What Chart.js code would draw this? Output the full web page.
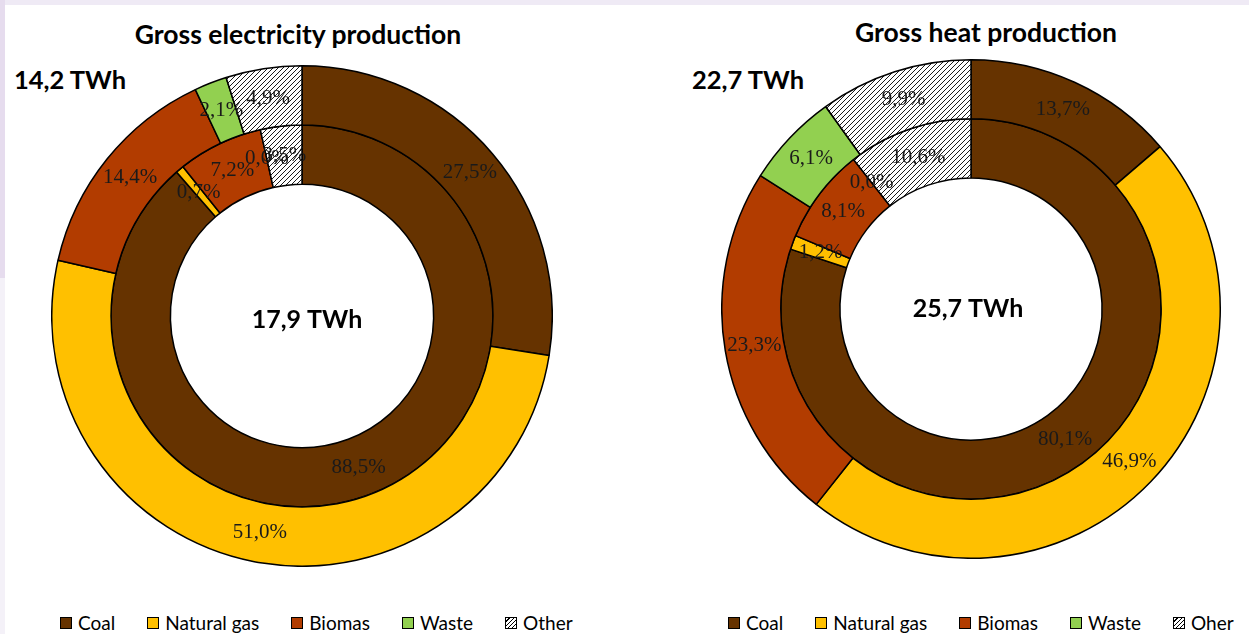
<!DOCTYPE html>
<html><head><meta charset="utf-8">
<script src="https://cdn.jsdelivr.net/npm/chart.js@4.4.1/dist/chart.umd.min.js"></script>
<style>
html,body{margin:0;padding:0;background:#fff;width:1249px;height:634px;overflow:hidden;position:relative;font-family:Lato,"Open Sans",sans-serif;}
.bar-top{position:absolute;left:0;top:0;width:1249px;height:5px;background:#efeaf5;}
.bar-left{position:absolute;left:0;top:0;width:5px;height:278px;background:#e6dcee;}
.bar-left2{position:absolute;left:0;top:278px;width:5px;height:356px;background:#f4f1f8;}
.title{position:absolute;font-weight:700;font-size:26.5px;color:#000;white-space:nowrap;transform:translate(-50%,-50%);}
.total{position:absolute;font-weight:700;font-size:25.5px;color:#000;white-space:nowrap;transform:translateY(-50%);}
.wrap{position:absolute;}
.legend{position:absolute;top:611px;display:flex;gap:32px;font-size:19px;color:#000;white-space:nowrap;}
.legend .it{display:flex;align-items:center;}
.legend .sw{width:10px;height:10px;border:1px solid #000;margin-right:6px;}
</style></head>
<body>
<div class="bar-top"></div><div class="bar-left"></div><div class="bar-left2"></div>
<div class="title" style="left:298px;top:34px">Gross electricity production</div>
<div class="title" style="left:986px;top:32px">Gross heat production</div>
<div class="total" style="left:14px;top:79px">14,2 TWh</div>
<div class="total" style="left:692px;top:79px">22,7 TWh</div>
<div class="wrap" style="left:51px;top:65px;width:502px;height:502px"><canvas id="c1"></canvas></div>
<div class="wrap" style="left:721px;top:59px;width:500px;height:500px"><canvas id="c2"></canvas></div>
<div class="legend" id="lg1" style="left:60px"></div>
<div class="legend" id="lg2" style="left:728px"></div>
<script>
// ---- data ----
const categoriesElec = ['Coal', 'Natural gas', 'Biomas', 'Waste', 'Other'];
const categoriesHeat = ['Coal', 'Natural gas', 'Biomas', 'Waste', 'Oher'];
const elecOuter = [27.5, 51.0, 14.4, 2.1, 4.9];   // 14,2 TWh
const elecInner = [88.5, 0.7, 7.2, 0.0, 3.5];     // 17,9 TWh
const heatOuter = [13.7, 46.9, 23.3, 6.1, 9.9];   // 22,7 TWh
const heatInner = [80.1, 1.2, 8.1, 0.0, 10.6];    // 25,7 TWh
const elecCenter = '17,9 TWh';
const heatCenter = '25,7 TWh';

// ---- styles ----
function hatch(){
  const s = 5, c = document.createElement('canvas');
  c.width = s; c.height = s;
  const g = c.getContext('2d');
  g.fillStyle = '#fff'; g.fillRect(0,0,s,s);
  g.strokeStyle = '#000'; g.lineWidth = 0.9;
  g.beginPath();
  g.moveTo(0, s); g.lineTo(s, 0);
  g.moveTo(-1, 1); g.lineTo(1, -1);
  g.moveTo(s-1, s+1); g.lineTo(s+1, s-1);
  g.stroke();
  return g.createPattern(c, 'repeat');
}
const pat = hatch();
const colors = ['#663300', '#FFC000', '#B23C00', '#92D050', pat];
const legendBg = ['#663300', '#FFC000', '#B23C00', '#92D050',
  'repeating-linear-gradient(135deg,#fff 0 2px,#000 2px 3px)'];

const pctLabels = {
  id: 'pctLabels',
  afterDatasetsDraw(chart) {
    const ctx = chart.ctx;
    ctx.save();
    ctx.font = '21px "Liberation Serif", "Times New Roman", serif';
    ctx.fillStyle = '#1a1a1a';
    ctx.textAlign = 'center';
    ctx.textBaseline = 'middle';
    chart.data.datasets.forEach((ds, di) => {
      const meta = chart.getDatasetMeta(di);
      meta.data.forEach((arc, i) => {
        const p = arc.tooltipPosition();
        ctx.fillText(ds.data[i].toFixed(1).replace('.', ',') + '%', p.x, p.y);
      });
    });
    ctx.restore();
  }
};
const centerText = {
  id: 'centerText',
  afterDatasetsDraw(chart, args, opts) {
    const arc = chart.getDatasetMeta(0).data[0];
    const ctx = chart.ctx;
    ctx.save();
    ctx.font = 'bold 25px Lato, "Open Sans", sans-serif';
    ctx.fillStyle = '#000';
    ctx.textAlign = 'center';
    ctx.textBaseline = 'middle';
    ctx.fillText(opts.text, arc.x + opts.dx, arc.y + opts.dy);
    ctx.restore();
  }
};

function make(id, labels, outer, inner, text, dx, dy) {
  return new Chart(document.getElementById(id), {
    type: 'doughnut',
    data: {
      labels: labels,
      datasets: [
        { data: outer, backgroundColor: colors, borderColor: '#000', borderWidth: 1.5 },
        { data: inner, backgroundColor: colors, borderColor: '#000', borderWidth: 1.5 }
      ]
    },
    options: {
      responsive: true, maintainAspectRatio: false, animation: false,
      cutout: '52.6%',
      layout: { padding: 0 },
      plugins: {
        legend: { display: false }, tooltip: { enabled: false }, title: { display: false },
        centerText: { text: text, dx: dx, dy: dy }
      },
      events: []
    },
    plugins: [pctLabels, centerText]
  });
}
make('c1', categoriesElec, elecOuter, elecInner, elecCenter, 5, 4);
make('c2', categoriesHeat, heatOuter, heatInner, heatCenter, -3, 0);

function legend(id, labels) {
  const el = document.getElementById(id);
  labels.forEach((l, i) => {
    const it = document.createElement('div'); it.className = 'it';
    const sw = document.createElement('span'); sw.className = 'sw';
    sw.style.background = legendBg[i];
    const tx = document.createElement('span'); tx.textContent = l;
    it.appendChild(sw); it.appendChild(tx); el.appendChild(it);
  });
}
legend('lg1', categoriesElec);
legend('lg2', categoriesHeat);
</script>
</body></html>
